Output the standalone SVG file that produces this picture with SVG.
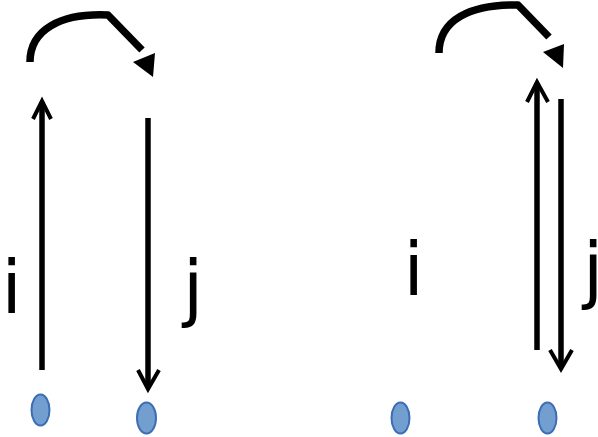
<svg xmlns="http://www.w3.org/2000/svg" width="598" height="437" viewBox="0 0 598 437">
<style>
.shaft{stroke:#000;stroke-width:5.5;fill:none}
.chev{stroke:#000;stroke-width:4;fill:none;stroke-linejoin:miter}
.curve{stroke:#000;stroke-width:7.5;fill:none;stroke-linejoin:round}
.head{fill:#000}
.node{fill:#729fcf;stroke:#3d6db5;stroke-width:2}
.lbl{font-family:"DejaVu Sans",sans-serif;font-size:73px;fill:#000}
</style>
<rect width="598" height="437" fill="#fff"/>
<g id="connectors">
  <path class="curve" d="M30,62 C30,30 60,13 108,15 L142,50"/>
  <polygon class="head" points="133,62 155,53 153,77"/>
  <path class="curve" d="M439,53 C439,20 470,4 518,5 L549,37"/>
  <polygon class="head" points="543,52 564,44 563,68"/>
  <line class="shaft" x1="42" y1="370" x2="42" y2="102"/>
  <polyline class="chev" points="33,119 42,101 51,119"/>
  <line class="shaft" x1="148" y1="118" x2="148" y2="388"/>
  <polyline class="chev" points="138,370 148,389 159,370"/>
  <line class="shaft" x1="537" y1="350" x2="537" y2="83"/>
  <polyline class="chev" points="527,102 537,82 548,102"/>
  <line class="shaft" x1="561" y1="99" x2="561" y2="368"/>
  <polyline class="chev" points="550,350 561,369 572,350"/>
</g>
<g id="node1"><ellipse class="node" cx="40.5" cy="410" rx="9" ry="15.5"/></g>
<g id="node2"><ellipse class="node" cx="146.5" cy="418" rx="9.5" ry="15.5"/></g>
<g id="node3"><ellipse class="node" cx="400.5" cy="418" rx="9" ry="15.5"/></g>
<g id="node4"><ellipse class="node" cx="547.5" cy="418" rx="9" ry="15.5"/></g>
<g id="labels">
  <text class="lbl" x="1.5" y="313">i</text>
  <text class="lbl" x="183" y="313">j</text>
  <text class="lbl" x="403.5" y="295">i</text>
  <text class="lbl" x="583" y="295">j</text>
</g>
</svg>
